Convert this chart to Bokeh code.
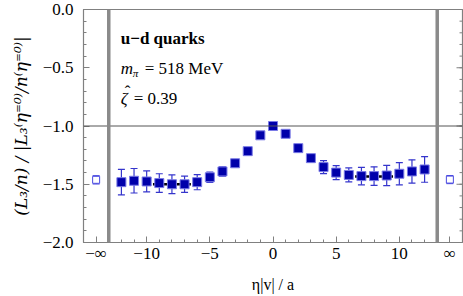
from bokeh.plotting import figure
from bokeh.models import (ColumnDataSource, Whisker, TeeHead, Span, FixedTicker, Range1d)
from bokeh.core.properties import value
from bokeh.embed import file_html
from bokeh.resources import INLINE

# ---- data ----
eta = [-12, -11, -10, -9, -8, -7, -6, -5, -4, -3, -2, -1, 0,
       1, 2, 3, 4, 5, 6, 7, 8, 9, 10, 11, 12]
ratio = [-1.482, -1.47, -1.476, -1.49, -1.50, -1.50, -1.482, -1.44, -1.39, -1.32, -1.216, -1.08, -1.0,
         -1.067, -1.19, -1.276, -1.353, -1.40, -1.42, -1.43, -1.43, -1.425, -1.41, -1.39, -1.373]
err = [0.11, 0.105, 0.09, 0.08, 0.08, 0.07, 0.065, 0.045, 0.04, 0.025, 0.015, 0.01, 0.005,
       0.01, 0.015, 0.02, 0.055, 0.06, 0.06, 0.075, 0.08, 0.087, 0.095, 0.10, 0.11]

inf_x = [-14, 14]
inf_y = [-1.462, -1.46]
inf_err = [0.036, 0.035]

fit_left_x = [-9.5, -6.5]
fit_left_y = [-1.50, -1.50]
fit_right_x = [6.5, 9.5]
fit_right_y = [-1.433, -1.433]

cut_x = [-13, 13]
x_ticks = [-14, -10, -5, 0, 5, 10, 14]
x_tick_labels = ["−∞", "−10", "−5", "0", "5", "10", "∞"]
y_ticks = [0.0, -0.5, -1.0, -1.5, -2.0]
y_tick_labels = ["0.0", "−0.5", "−1.0", "−1.5", "−2.0"]
y_minor = [round(-0.1 * i, 1) for i in range(0, 21)]

SERIF = "Liberation Serif"

p = figure(width=463, height=296, output_backend="svg", toolbar_location=None,
           x_range=Range1d(-15, 15), y_range=Range1d(-2.0, 0.0),
           min_border_left=83, min_border_right=1, min_border_top=9, min_border_bottom=54)
p.grid.visible = False
p.outline_line_color = "#808080"
p.outline_line_width = 1.2
p.background_fill_color = "white"

src = ColumnDataSource(dict(x=eta, y=ratio,
                            lo=[r - e for r, e in zip(ratio, err)],
                            hi=[r + e for r, e in zip(ratio, err)]))
src_inf = ColumnDataSource(dict(x=inf_x, y=inf_y,
                                lo=[r - e for r, e in zip(inf_y, inf_err)],
                                hi=[r + e for r, e in zip(inf_y, inf_err)]))

# reference lines
p.add_layout(Span(location=-1.0, dimension="width", line_color="#555555", line_width=1))
for cx in cut_x:
    p.add_layout(Span(location=cx, dimension="height", line_color="#8a8a8a", line_width=3.5))

# right-edge ticks (mirror of the left axis), drawn as dashes clipped by the frame
p.scatter([15] * len(y_ticks), y_ticks, marker="dash", size=12, line_color="#808080", line_width=1)
p.scatter([15] * len(y_minor), y_minor, marker="dash", size=6, line_color="#808080", line_width=1)

# error bars
ebar_col = "#3535cc"
w = Whisker(source=src, base="x", upper="hi", lower="lo", line_color=ebar_col, line_width=1.2,
            upper_head=TeeHead(size=7, line_color=ebar_col, line_width=1.2),
            lower_head=TeeHead(size=7, line_color=ebar_col, line_width=1.2))
p.add_layout(w)
w2 = Whisker(source=src_inf, base="x", upper="hi", lower="lo", line_color="#4a4ae0", line_width=1,
             upper_head=TeeHead(size=7, line_color="#4a4ae0", line_width=1),
             lower_head=TeeHead(size=7, line_color="#4a4ae0", line_width=1))
p.add_layout(w2)

# fit lines
p.line(fit_left_x, fit_left_y, line_color="black", line_width=2.5)
p.line(fit_right_x, fit_right_y, line_color="black", line_width=2.5)

# points
p.scatter("x", "y", source=src, marker="square", size=9, fill_color="#0000aa",
          line_color="#7a7ae6", line_width=1)
p.scatter("x", "y", source=src_inf, marker="square", size=7, fill_color="white",
          line_color="#4a4ae0", line_width=1)

# annotations
F = value(SERIF)
p.text([-12.05], [-0.249], text=["u−d quarks"], text_font=F, text_font_size="17px",
       text_font_style="bold", text_baseline="middle", text_color="black")
p.text([-12.05], [-0.506], text=["m"], text_font=F, text_font_size="17px",
       text_font_style="italic", text_baseline="middle", text_color="black")
p.text([-12.05], [-0.506], text=["π"], text_font=F, text_font_size="11px",
       text_font_style="italic", text_baseline="middle", text_color="black", x_offset=12, y_offset=5)
p.text([-12.05], [-0.506], text=["= 518 MeV"], text_font=F, text_font_size="17px",
       text_baseline="middle", text_color="black", x_offset=24)
p.text([-12.05], [-0.764], text=["ζ"], text_font=F, text_font_size="17px",
       text_font_style="italic", text_baseline="middle", text_color="black")
p.text([-12.05], [-0.764], text=["ˆ"], text_font=F, text_font_size="17px",
       text_baseline="middle", text_color="black", x_offset=4, y_offset=-7)
p.text([-12.05], [-0.764], text=["= 0.39"], text_font=F, text_font_size="17px",
       text_baseline="middle", text_color="black", x_offset=13)

# axes
xa = p.xaxis[0]
xa.ticker = FixedTicker(ticks=x_ticks, minor_ticks=list(range(-12, 13)))
xa.major_label_overrides = {t: l for t, l in zip(x_ticks, x_tick_labels)}
xa.major_tick_in = 6
xa.major_tick_out = 0
xa.minor_tick_in = 3
xa.minor_tick_out = 0
xa.axis_line_color = "#808080"
xa.major_tick_line_color = "#808080"
xa.minor_tick_line_color = "#808080"
xa.major_label_text_font = SERIF
xa.major_label_text_font_size = "17px"
xa.major_label_text_color = "black"
xa.major_label_standoff = 1
xa.axis_label = "η|v| / a"
xa.axis_label_text_font = SERIF
xa.axis_label_text_font_size = "16px"
xa.axis_label_text_font_style = "normal"
xa.axis_label_text_color = "black"
xa.axis_label_standoff = 10

ya = p.yaxis[0]
ya.ticker = FixedTicker(ticks=y_ticks, minor_ticks=y_minor)
ya.major_label_overrides = {t: l for t, l in zip(y_ticks, y_tick_labels)}
ya.major_tick_in = 6
ya.major_tick_out = 0
ya.minor_tick_in = 3
ya.minor_tick_out = 0
ya.axis_line_color = "#808080"
ya.major_tick_line_color = "#808080"
ya.minor_tick_line_color = "#808080"
ya.major_label_text_font = SERIF
ya.major_label_text_font_size = "17px"
ya.major_label_text_color = "black"
ya.major_label_standoff = 10
ya.axis_label = "(L₃/n) / |L₃⁽η⁼⁰⁾/n⁽η⁼⁰⁾|"
ya.axis_label_text_font = "DejaVu Serif"
ya.axis_label_text_font_size = "17px"
ya.axis_label_text_font_style = "italic"
ya.axis_label_text_color = "black"
ya.axis_label_standoff = 9

open("out.html", "w").write(file_html(p, INLINE))
